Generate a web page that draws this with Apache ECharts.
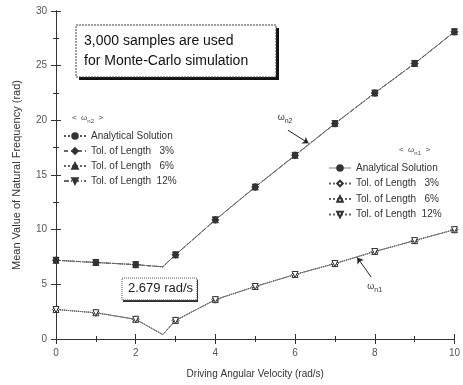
<!DOCTYPE html>
<html><head><meta charset="utf-8">
<script src="https://cdn.jsdelivr.net/npm/echarts@6/dist/echarts.min.js"></script>
<style>html,body{margin:0;padding:0;background:#fff}#c{width:463px;height:385px}</style>
</head><body><div id="c"></div>
<script>
var xs = [0, 1, 2, 2.679, 3, 4, 5, 6, 7, 8, 9, 10];
var wn2Analytical = [7.2, 7.0, 6.8, 6.6, 7.7, 10.9, 13.9, 16.8, 19.7, 22.5, 25.2, 28.1];
var wn2Tol3  = [7.2, 7.0, 6.8, 6.6, 7.7, 10.9, 13.9, 16.8, 19.7, 22.5, 25.2, 28.1];
var wn2Tol6  = [7.2, 7.0, 6.8, 6.6, 7.7, 10.9, 13.9, 16.8, 19.7, 22.5, 25.2, 28.1];
var wn2Tol12 = [7.2, 7.0, 6.8, 6.6, 7.7, 10.9, 13.9, 16.8, 19.7, 22.5, 25.2, 28.1];
var wn1Analytical = [2.7, 2.4, 1.8, 0.4, 1.7, 3.6, 4.8, 5.9, 6.9, 8.0, 9.0, 10.0];
var wn1Tol3  = [2.7, 2.4, 1.8, 0.4, 1.7, 3.6, 4.8, 5.9, 6.9, 8.0, 9.0, 10.0];
var wn1Tol6  = [2.7, 2.4, 1.8, 0.4, 1.7, 3.6, 4.8, 5.9, 6.9, 8.0, 9.0, 10.0];
var wn1Tol12 = [2.7, 2.4, 1.8, 0.4, 1.7, 3.6, 4.8, 5.9, 6.9, 8.0, 9.0, 10.0];
var xTicks = [0, 2, 4, 6, 8, 10];
var yTicks = [0, 5, 10, 15, 20, 25, 30];
var criticalSpeed = 2.679;

var labels = {
  n2a: 'Analytical Solution', n2t3: 'Tol. of Length   3%', n2t6: 'Tol. of Length   6%', n2t12: 'Tol. of Length  12%',
  n1a: 'Analytical Solution', n1t3: 'Tol. of Length   3%', n1t6: 'Tol. of Length   6%', n1t12: 'Tol. of Length  12%'
};
var C = '#333';
var invTri = 'path://M0,0 L10,0 L5,9 Z';
function pts(arr) {
  return xs.map(function (x, i) {
    var p = { value: [x, arr[i]] };
    if (x === criticalSpeed) p.symbol = 'none';
    return p;
  });
}
function mk(name, arr, ltype, sym, size, filled, lc) {
  return {
    name: name, type: 'line', data: pts(arr), symbol: sym, symbolSize: size,
    showAllSymbol: true, animation: false,
    lineStyle: { color: lc || C, width: 1, type: ltype },
    itemStyle: { color: filled ? C : '#fff', borderColor: C, borderWidth: 1 },
    z: 3
  };
}
var series = [
  mk('n2a', wn2Analytical, 'dotted', 'circle', 5, true, '#555'),
  mk('n2t3', wn2Tol3, [4, 3], 'diamond', 7, true, '#666'),
  mk('n2t6', wn2Tol6, 'dotted', 'triangle', 6, true, '#666'),
  mk('n2t12', wn2Tol12, [5, 2, 1, 2], invTri, 6, true, '#666'),
  mk('n1a', wn1Analytical, 'solid', 'circle', 5, true, '#333'),
  mk('n1t3', wn1Tol3, 'dotted', 'diamond', 7, false, '#666'),
  mk('n1t6', wn1Tol6, 'dotted', 'triangle', 6, false, '#666'),
  mk('n1t12', wn1Tol12, 'dotted', invTri, 6, false, '#666')
];
series[4].lineStyle.opacity = 0.3;
series[0].markLine = {
  silent: true, symbol: ['none', 'arrow'], symbolSize: 6, animation: false,
  lineStyle: { color: '#222', type: 'solid', width: 1 }, label: { show: false },
  data: [[{ coord: [5.82, 19.1] }, { coord: [6.34, 17.9] }], [{ coord: [7.91, 5.67] }, { coord: [7.56, 7.45] }]]
};
series[0].markPoint = {
  silent: true, symbol: 'circle', symbolSize: 1, animation: false,
  itemStyle: { color: 'rgba(0,0,0,0)', borderWidth: 0 },
  label: { show: true, position: 'inside', color: '#333', fontFamily: 'Liberation Sans', fontSize: 9,
    rich: { s: { fontSize: 7, padding: [8, 0, 0, 0], color: '#333' } } },
  data: [
    { coord: [5.75, 20.3], label: { formatter: 'ω{s|n2}' } },
    { coord: [8.0, 4.8], label: { formatter: 'ω{s|n1}' } }
  ]
};

var axisCommon = {
  type: 'value', min: 0, max: 10, interval: 2,
  axisLine: { show: true, lineStyle: { color: '#333', width: 1 } },
  axisTick: { show: true, inside: true, length: 5, lineStyle: { color: '#333' } },
  minorTick: { show: true, splitNumber: 2, length: 3, lineStyle: { color: '#333' } },
  splitLine: { show: false }
};
var legendCommon = {
  orient: 'vertical', itemWidth: 22, itemHeight: 7, itemGap: 5, padding: 0,
  textStyle: { fontFamily: 'Liberation Sans', fontSize: 10, color: '#333' },
  formatter: function (n) { return labels[n]; }, selectedMode: false
};
var chart = echarts.init(document.getElementById('c'));
chart.setOption({
  backgroundColor: '#fff',
  animation: false,
  grid: { left: 56, right: 5, top: 11, bottom: 46 },
  xAxis: [
    Object.assign({}, axisCommon, {
      name: 'Driving Angular Velocity (rad/s)', nameLocation: 'middle', nameGap: 30,
      nameTextStyle: { fontFamily: 'Liberation Sans', fontSize: 10, color: '#333' },
      axisLabel: { fontFamily: 'Liberation Sans', fontSize: 10, color: '#555', margin: 9,
        formatter: function (v) { return xTicks.indexOf(v) >= 0 ? String(v) : ''; } }
    }),
    Object.assign({}, axisCommon, { position: 'top', axisLabel: { show: false } })
  ],
  yAxis: [
    Object.assign({}, axisCommon, {
      min: 0, max: 30, interval: 5,
      name: 'Mean Value of Natural Frequency (rad)', nameLocation: 'middle', nameGap: 34,
      nameTextStyle: { fontFamily: 'Liberation Sans', fontSize: 11, color: '#333' },
      axisLabel: { fontFamily: 'Liberation Sans', fontSize: 10, color: '#555', margin: 9,
        formatter: function (v) { return yTicks.indexOf(v) >= 0 ? String(v) : ''; } }
    }),
    Object.assign({}, axisCommon, { min: 0, max: 30, interval: 5, position: 'right', axisLabel: { show: false } })
  ],
  legend: [
    Object.assign({}, legendCommon, { left: 63, top: 131, data: ['n2a', 'n2t3', 'n2t6', 'n2t12'] }),
    Object.assign({}, legendCommon, { left: 328, top: 163, itemGap: 5.5, data: ['n1a', 'n1t3', 'n1t6', 'n1t12'] })
  ],
  series: series,
  graphic: [
    { type: 'rect', shape: { x: 79, y: 28, width: 200, height: 52 },
      style: { fill: '#111', stroke: null }, z: 9 },
    { type: 'rect', shape: { x: 76, y: 25, width: 200, height: 52 },
      style: { fill: '#fff', stroke: '#444', lineWidth: 1, lineDash: [2, 1] }, z: 10 },
    { type: 'text', left: 84, top: 31, z: 11,
      style: { text: '3,000 samples are used\nfor Monte-Carlo simulation', fontFamily: 'Liberation Sans',
        fontSize: 14, lineHeight: 20, fill: '#111' } },
    { type: 'rect', shape: { x: 123, y: 280, width: 75, height: 22 },
      style: { fill: '#333', stroke: null }, z: 9 },
    { type: 'rect', shape: { x: 122, y: 278, width: 75, height: 22 },
      style: { fill: '#fff', stroke: '#555', lineWidth: 1, lineDash: [1, 1] }, z: 10 },
    { type: 'text', left: 128, top: 282, z: 11,
      style: { text: '2.679 rad/s', fontFamily: 'Liberation Sans', fontSize: 13, fill: '#222' } },
    { type: 'text', left: 72, top: 114, z: 11,
      style: { text: '<  ω{s|n2}  >', fontFamily: 'Liberation Sans', fontSize: 8, fill: '#444',
        rich: { s: { fontSize: 6, padding: [7, 0, 0, 0], fill: '#444' } } } },
    { type: 'text', left: 399, top: 146, z: 11,
      style: { text: '<  ω{s|n1}  >', fontFamily: 'Liberation Sans', fontSize: 8, fill: '#444',
        rich: { s: { fontSize: 6, padding: [7, 0, 0, 0], fill: '#444' } } } }
  ]
});
</script></body></html>
